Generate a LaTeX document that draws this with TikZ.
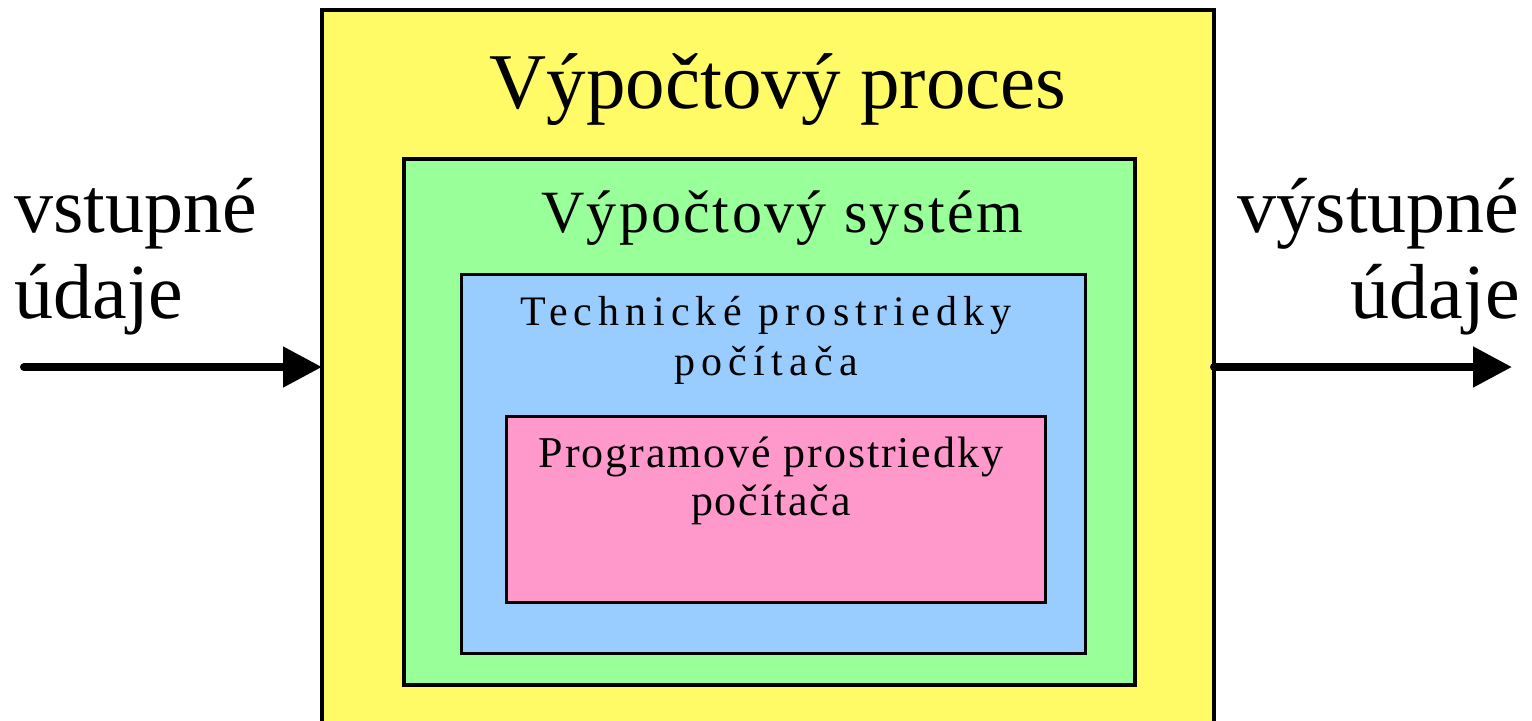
\documentclass[tikz,border=0pt]{standalone}
\usepackage{fontspec}
\setmainfont{Liberation Serif}
\usetikzlibrary{arrows.meta}
\definecolor{procyellow}{HTML}{FFFB66}
\definecolor{sysgreen}{HTML}{99FF99}
\definecolor{hwblue}{HTML}{99CCFF}
\definecolor{swpink}{HTML}{FF99CC}
\tikzset{
  layer/.style={draw=black, rectangle, anchor=north west, inner sep=0pt, outer sep=0pt},
  flow/.style={line width=4pt, line cap=round, -{Triangle[length=19.5pt,width=19.5pt]}},
  label/.style={inner sep=0pt, anchor=base, align=center},
}
\begin{document}
\begin{tikzpicture}[x=0.5pt, y=-0.5pt]
\useasboundingbox (0,0) rectangle (1532,720);
% nested layers
\node[layer, line width=2pt, fill=procyellow, minimum width=446pt, minimum height=370pt] (proc) at (322,10) {};
\node[layer, line width=1.75pt, fill=sysgreen, minimum width=365.5pt, minimum height=263pt] (sys) at (404,159) {};
\node[layer, line width=1.5pt, fill=hwblue, minimum width=312pt, minimum height=189.75pt] (hw) at (461,274) {};
\node[layer, line width=1.5pt, fill=swpink, minimum width=269.5pt, minimum height=93pt] (sw) at (506,416) {};
% titles
\node[label, font=\fontsize{39.5pt}{40pt}\selectfont] (tproc) at (778,108) {Výpočtový proces};
\node[label, font=\fontsize{30pt}{32pt}\selectfont\addfontfeature{LetterSpace=4}] (tsys) at (782,232) {Výpočtový systém};
\node[label, font=\fontsize{21pt}{24pt}\selectfont\addfontfeature{LetterSpace=14.8}] (thw1) at (766,325) {Technické prostriedky};
\node[label, font=\fontsize{21pt}{24pt}\selectfont\addfontfeature{LetterSpace=14.8}] (thw2) at (766,375) {počítača};
\node[label, font=\fontsize{22pt}{24pt}\selectfont\addfontfeature{LetterSpace=4.3}] (tsw1) at (771,467) {Programové prostriedky};
\node[label, font=\fontsize{22pt}{24pt}\selectfont\addfontfeature{LetterSpace=4.3}] (tsw2) at (771,515) {počítača};
% input / output labels
\node[inner sep=0pt, anchor=base west, font=\fontsize{39pt}{40pt}\selectfont] (in1) at (14,232) {vstupné};
\node[inner sep=0pt, anchor=base west, font=\fontsize{39pt}{40pt}\selectfont] (in2) at (14,318) {údaje};
\node[inner sep=0pt, anchor=base east, font=\fontsize{39pt}{40pt}\selectfont] (out1) at (1520,232) {výstupné};
\node[inner sep=0pt, anchor=base east, font=\fontsize{39pt}{40pt}\selectfont] (out2) at (1520,318) {údaje};
% data flow
\coordinate (src) at (24,367);
\coordinate (dst) at (1512,367);
\draw[flow] (src) -- (src -| proc.west);
\draw[flow] (proc.east |- dst) -- (dst);
\end{tikzpicture}
\end{document}
